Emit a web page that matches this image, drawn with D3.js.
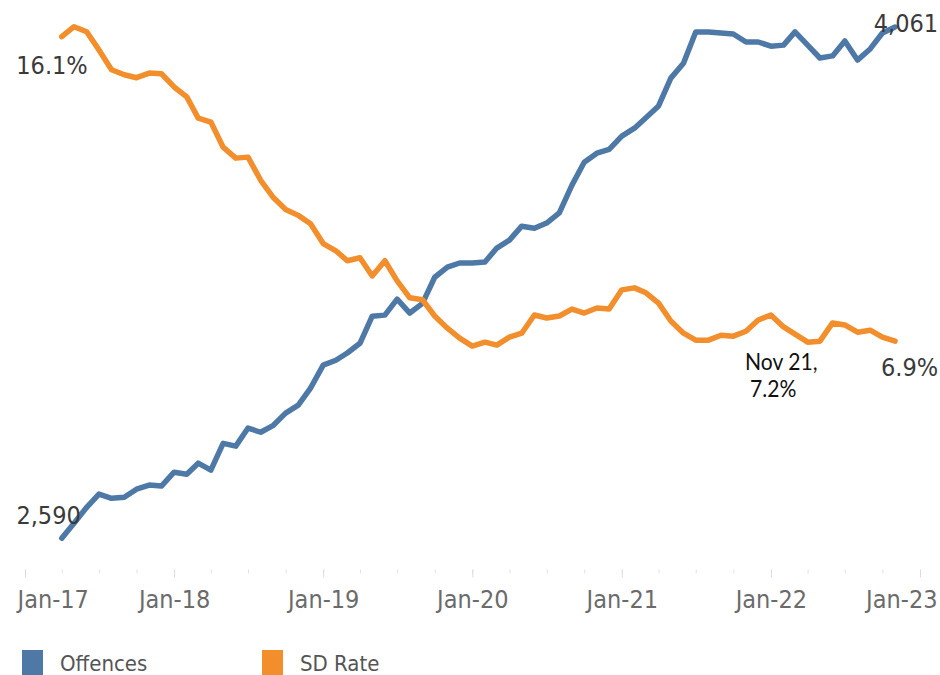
<!DOCTYPE html>
<html>
<head>
<meta charset="utf-8">
<script src="https://cdn.jsdelivr.net/npm/d3@7"></script>
<style>
  html, body { margin: 0; padding: 0; background: #fff; }
  svg { display: block; }
  .tab { font-family: "DejaVu Sans Condensed", "DejaVu Sans", sans-serif; font-stretch: condensed; }
</style>
</head>
<body>
<svg id="chart" width="940" height="675"></svg>
<script>
// Monthly series, Apr-17 .. Nov-22
const firstMonth = "2017-04";
const lastMonth = "2022-11";

const offences = [
  2590, 2633, 2679, 2717, 2705, 2708, 2731, 2743, 2740,
  2780, 2774, 2806, 2786, 2863, 2855, 2907, 2895, 2915, 2950, 2973, 3022,
  3088, 3102, 3123, 3151, 3229, 3232, 3278, 3238, 3266, 3341, 3370, 3382,
  3382, 3385, 3425, 3448, 3488, 3482, 3497, 3526, 3606, 3672, 3698, 3709,
  3747, 3770, 3800, 3834, 3914, 3957, 4047, 4047, 4044, 4041, 4018, 4018,
  4006, 4009, 4047, 4009, 3972, 3978, 4021, 3966, 3998, 4044, 4061
];

const sdRate = [
  16.1, 16.4, 16.25, 15.7, 15.1, 14.95, 14.86, 15.0, 14.98,
  14.58, 14.28, 13.64, 13.52, 12.76, 12.43, 12.46, 11.76, 11.24, 10.88, 10.70, 10.45,
  9.85, 9.63, 9.33, 9.42, 8.87, 9.33, 8.72, 8.21, 8.15, 7.66, 7.29, 6.99,
  6.75, 6.87, 6.78, 7.02, 7.14, 7.69, 7.60, 7.66, 7.87, 7.75, 7.90, 7.87,
  8.45, 8.51, 8.36, 8.05, 7.51, 7.14, 6.93, 6.93, 7.08, 7.05, 7.2, 7.54,
  7.69, 7.33, 7.11, 6.87, 6.9, 7.45, 7.39, 7.17, 7.23, 7.02, 6.9
];

// Axis extent and tick labels
const axisStart = "2017-01";
const axisEnd = "2023-01";
const yearTicks = ["2017-01", "2018-01", "2019-01", "2020-01", "2021-01", "2022-01", "2023-01"];
const offencesDomain = [2500, 4100];
const sdRateDomain = [0, 16.8];

const seriesNames = ["Offences", "SD Rate"];
const seriesColors = ["#4e79a7", "#f28e2b"];

// Call-out on the SD Rate line
const calloutMonth = "2021-11";
const calloutLines = ["Nov 21,", "7.2%"];

const parseMonth = d3.timeParse("%Y-%m");
const months = d3.timeMonth.range(parseMonth(firstMonth), d3.timeMonth.offset(parseMonth(lastMonth), 1));

const svg = d3.select("#chart");
const plot = { left: 25, right: 920, top: 13.5, bottom: 569.5 };

const x = d3.scaleTime()
  .domain([parseMonth(axisStart), parseMonth(axisEnd)])
  .range([plot.left, plot.right]);
const yOff = d3.scaleLinear().domain(offencesDomain).range([plot.bottom, plot.top]);
const ySd = d3.scaleLinear().domain(sdRateDomain).range([plot.bottom, plot.top]);

// Quarterly minor ticks
const quarterTicks = d3.timeMonth.every(3).range(parseMonth(axisStart), d3.timeMonth.offset(parseMonth(axisEnd), 1));
const minorAxis = svg.append("g")
  .attr("transform", `translate(0,${plot.bottom})`)
  .call(d3.axisBottom(x).tickValues(quarterTicks).tickSize(4).tickFormat(""));
minorAxis.select(".domain").remove();
minorAxis.selectAll(".tick line").attr("stroke", "#e2e2e2").attr("stroke-width", 1);

// Yearly ticks with labels
const fmt = d3.timeFormat("%b-%y");
const majorAxis = svg.append("g")
  .attr("transform", `translate(0,${plot.bottom})`)
  .call(d3.axisBottom(x).tickValues(yearTicks.map(parseMonth)).tickSize(8).tickPadding(13).tickFormat(fmt));
majorAxis.select(".domain").remove();
majorAxis.selectAll(".tick line").attr("stroke", "#dcdcdc").attr("stroke-width", 1);
majorAxis.selectAll(".tick text")
  .attr("class", "tab")
  .attr("font-size", 25)
  .attr("fill", "#6b6b6b");
// keep the outer labels inside the canvas
majorAxis.selectAll(".tick text").each(function (d, i, nodes) {
  if (i === 0) d3.select(this).attr("text-anchor", "start").attr("x", -8);
  if (i === nodes.length - 1) d3.select(this).attr("text-anchor", "end").attr("x", 17);
});

// Lines
const offLine = d3.line().x((d, i) => x(months[i])).y(d => yOff(d));
const sdLine = d3.line().x((d, i) => x(months[i])).y(d => ySd(d));

svg.append("path")
  .datum(offences)
  .attr("d", offLine)
  .attr("fill", "none")
  .attr("stroke", seriesColors[0])
  .attr("stroke-width", 5.5)
  .attr("stroke-linejoin", "round")
  .attr("stroke-linecap", "round");

svg.append("path")
  .datum(sdRate)
  .attr("d", sdLine)
  .attr("fill", "none")
  .attr("stroke", seriesColors[1])
  .attr("stroke-width", 5.5)
  .attr("stroke-linejoin", "round")
  .attr("stroke-linecap", "round");

// End-point value labels
const nFmt = d3.format(",");
const pFmt = v => d3.format(".1f")(v) + "%";
const last = months.length - 1;
const valueLabels = [
  { x: x(months[0]) + 26, y: ySd(sdRate[0]) + 37, anchor: "end", text: pFmt(sdRate[0]) },
  { x: x(months[0]) + 19, y: yOff(offences[0]) - 14, anchor: "end", text: nFmt(offences[0]) },
  { x: x(months[last]) + 43, y: yOff(offences[last]) + 5, anchor: "end", text: nFmt(offences[last]) },
  { x: x(months[last]) + 43, y: ySd(sdRate[last]) + 35, anchor: "end", text: pFmt(sdRate[last]) }
];
svg.append("g").selectAll("text")
  .data(valueLabels)
  .join("text")
  .attr("class", "tab")
  .attr("x", d => d.x)
  .attr("y", d => d.y)
  .attr("text-anchor", d => d.anchor)
  .attr("font-size", 25)
  .attr("fill", "#3a3a3a")
  .text(d => d.text);

// Call-out text
const ci = months.findIndex(m => +m === +parseMonth(calloutMonth));
const cx = x(months[ci]) - 1;
const cy = ySd(sdRate[ci]);
const callout = svg.append("g").attr("transform", `translate(${cx},${cy})`);
callout.selectAll("text")
  .data(calloutLines)
  .join("text")
  .attr("transform", (d, i) => `translate(${i === 0 ? 0 : 5},${39 + i * 27}) scale(0.88,1)`)
  .attr("font-family", "Lato, 'Open Sans', sans-serif")
  .attr("font-size", 24)
  .attr("fill", "#111")
  .text(d => d);

// Legend
const legend = svg.append("g").attr("transform", "translate(22,650)");
const items = legend.selectAll("g")
  .data(seriesNames)
  .join("g")
  .attr("transform", (d, i) => `translate(${i * 240},0)`);
items.append("rect")
  .attr("width", 21)
  .attr("height", 30)
  .attr("fill", (d, i) => seriesColors[i]);
items.append("text")
  .attr("class", "tab")
  .attr("x", 38)
  .attr("y", 21)
  .attr("font-size", 22)
  .attr("fill", "#555")
  .text(d => d);
</script>
</body>
</html>
